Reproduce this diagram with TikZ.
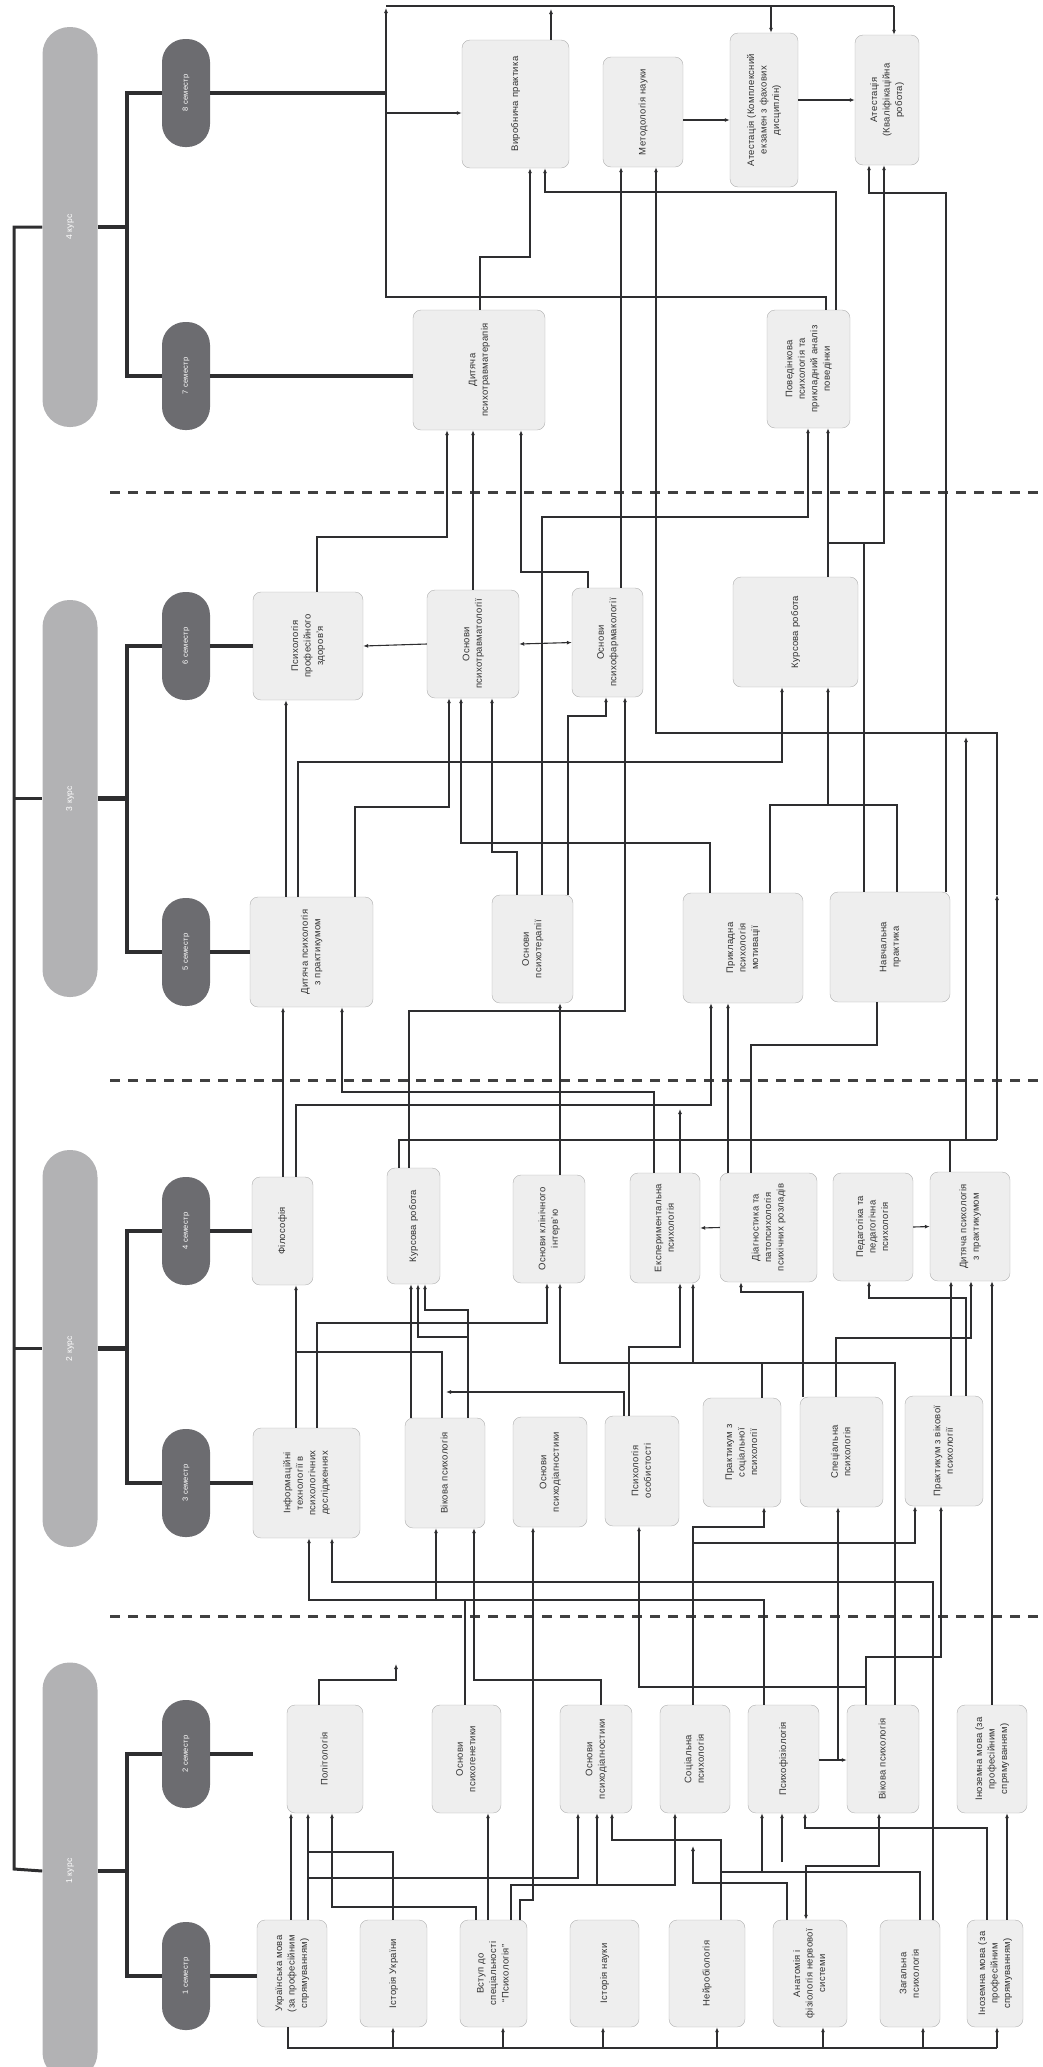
\documentclass[tikz,border=0pt]{standalone}
\usepackage{fontspec}
\setmainfont{Liberation Sans}[LetterSpace=3]
\usetikzlibrary{arrows.meta, calc, backgrounds}
\definecolor{coursegray}{HTML}{B2B2B4}
\definecolor{semgray}{HTML}{6C6C70}
\definecolor{boxfill}{HTML}{EEEEEE}
\definecolor{boxline}{HTML}{AEAEAE}
\definecolor{linkgray}{HTML}{2E2E30}
\newcommand{\vtxt}[1]{\rotatebox{90}{\begin{tabular}{@{}c@{}}#1\end{tabular}}}
\tikzset{
  subj/.style={draw=boxline, fill=boxfill, rounded corners=8pt, inner sep=0pt,
    text=black!80, font=\fontsize{9.5}{12.5}\selectfont},
  semnode/.style={fill=semgray, rounded corners=23pt, minimum width=48, minimum height=108,
    inner sep=0pt, text=white, font=\fontsize{7.5}{8}\selectfont},
  coursenode/.style={fill=coursegray, rounded corners=27pt, minimum width=55, inner sep=0pt,
    text=white, font=\fontsize{8.5}{9}\selectfont},
  link/.style={draw=linkgray, line width=1.1pt},
  arr/.style={link, -{Latex[length=5pt,width=4pt]}},
  arrboth/.style={link, {Latex[length=5pt,width=4pt]}-{Latex[length=5pt,width=4pt]}},
  spine/.style={draw=linkgray, line width=3pt},
  semlink/.style={draw=linkgray, line width=4.5pt},
  divider/.style={draw=black!75, line width=3pt, dash pattern=on 10pt off 8pt},
}

\begin{document}
\begin{tikzpicture}[x=1pt, y=-1pt]
\useasboundingbox (0,0) rectangle (1042,2067);

% courses and semesters
\node[coursenode, minimum height=400] (k4) at (70,227) {\rotatebox{90}{4 курс}};
\node[coursenode, minimum height=397] (k3) at (70,798.5) {\rotatebox{90}{3 курс}};
\node[coursenode, minimum height=397] (k2) at (70,1348.5) {\rotatebox{90}{2 курс}};
\node[coursenode, minimum height=417] (k1) at (70,1871) {\rotatebox{90}{1 курс}};
\node[semnode] (s8) at (186,93) {\rotatebox{90}{8 семестр}};
\node[semnode] (s7) at (186,376) {\rotatebox{90}{7 семестр}};
\node[semnode] (s6) at (186,646) {\rotatebox{90}{6 семестр}};
\node[semnode] (s5) at (186,952) {\rotatebox{90}{5 семестр}};
\node[semnode] (s4) at (186,1231) {\rotatebox{90}{4 семестр}};
\node[semnode] (s3) at (186,1483) {\rotatebox{90}{3 семестр}};
\node[semnode] (s2) at (186,1754) {\rotatebox{90}{2 семестр}};
\node[semnode] (s1) at (186,1976) {\rotatebox{90}{1 семестр}};

% 1 семестр
\node[subj, minimum width=70, minimum height=107] (ukr) at (292,1973.5) {\vtxt{Українська мова\\(за професійним\\спрямуванням)}};
\node[subj, minimum width=67, minimum height=107] (istu) at (393.5,1973.5) {\vtxt{Історія України}};
\node[subj, minimum width=67, minimum height=107] (vstup) at (493.5,1973.5) {\vtxt{Вступ до\\спеціальності\\“Психологія”}};
\node[subj, minimum width=69, minimum height=107] (istn) at (604.5,1973.5) {\vtxt{Історія науки}};
\node[subj, minimum width=76, minimum height=107] (neuro) at (707,1973.5) {\vtxt{Нейробіологія}};
\node[subj, minimum width=74, minimum height=107] (anat) at (810,1973.5) {\vtxt{Анатомія і\\фізіологія нервової\\системи}};
\node[subj, minimum width=60, minimum height=107] (zah) at (910,1973.5) {\vtxt{Загальна\\психологія}};
\node[subj, minimum width=56, minimum height=107] (inoz1) at (995,1973.5) {\vtxt{Іноземна мова (за\\професійним\\спрямуванням)}};

% 2 семестр
\node[subj, minimum width=76, minimum height=108] (polit) at (325,1759) {\vtxt{Політологія}};
\node[subj, minimum width=69, minimum height=108] (genet) at (466.5,1759) {\vtxt{Основи\\психогенетики}};
\node[subj, minimum width=72, minimum height=108] (diag2) at (596,1759) {\vtxt{Основи\\психодіагностики}};
\node[subj, minimum width=70, minimum height=108] (soc) at (695,1759) {\vtxt{Соціальна\\психологія}};
\node[subj, minimum width=71, minimum height=108] (fiz) at (783.5,1759) {\vtxt{Психофізіологія}};
\node[subj, minimum width=72, minimum height=108] (vik2) at (883,1759) {\vtxt{Вікова психологія}};
\node[subj, minimum width=70, minimum height=108] (inoz2) at (992,1759) {\vtxt{Іноземна мова (за\\професійним\\спрямуванням)}};

% 3 семестр
\node[subj, minimum width=107, minimum height=110] (inf) at (306.5,1483) {\vtxt{Інформаційні\\технології в\\психологічних\\дослідженнях}};
\node[subj, minimum width=80, minimum height=110] (vik3) at (445,1473) {\vtxt{Вікова психологія}};
\node[subj, minimum width=74, minimum height=110] (diag3) at (550,1472) {\vtxt{Основи\\психодіагностики}};
\node[subj, minimum width=74, minimum height=110] (osob) at (642,1471) {\vtxt{Психологія\\особистості}};
\node[subj, minimum width=78, minimum height=109] (prsoc) at (742,1452.5) {\vtxt{Практикум з\\соціальної\\психології}};
\node[subj, minimum width=83, minimum height=110] (spec) at (841.5,1452) {\vtxt{Спеціальна\\психологія}};
\node[subj, minimum width=78, minimum height=110] (prvik) at (944,1451) {\vtxt{Практикум з вікової\\психології}};

% 4 семестр
\node[subj, minimum width=61, minimum height=108] (filos) at (282.5,1231) {\vtxt{Філософія}};
\node[subj, minimum width=53, minimum height=116] (kurs4) at (413.5,1226) {\vtxt{Курсова робота}};
\node[subj, minimum width=72, minimum height=108] (interv) at (549,1229) {\vtxt{Основи клінічного\\інтерв'ю}};
\node[subj, minimum width=70, minimum height=110] (exp) at (665,1228) {\vtxt{Експериментальна\\психологія}};
\node[subj, minimum width=97, minimum height=109] (patop) at (768.5,1227.5) {\vtxt{Діагностика та\\патопсихологія\\психічних розладів}};
\node[subj, minimum width=80, minimum height=108] (ped) at (873,1227) {\vtxt{Педагогіка та\\педагогічна\\психологія}};
\node[subj, minimum width=80, minimum height=109] (dyt4) at (970,1226.5) {\vtxt{Дитяча психологія\\з практикумом}};

% 5 семестр
\node[subj, minimum width=123, minimum height=110] (dyt5) at (311.5,952) {\vtxt{Дитяча психологія\\з практикумом}};
\node[subj, minimum width=81, minimum height=108] (terap) at (532.5,949) {\vtxt{Основи\\психотерапії}};
\node[subj, minimum width=120, minimum height=110] (motiv) at (743,948) {\vtxt{Прикладна\\психологія\\мотивації}};
\node[subj, minimum width=120, minimum height=110] (navch) at (890,947) {\vtxt{Навчальна\\практика}};

% 6 семестр
\node[subj, minimum width=110, minimum height=108] (zdor) at (308,646) {\vtxt{Психологія\\професійного\\здоров'я}};
\node[subj, minimum width=92, minimum height=108] (travm) at (473,644) {\vtxt{Основи\\психотравматології}};
\node[subj, minimum width=71, minimum height=109] (farm) at (607.5,642.5) {\vtxt{Основи\\психофармакології}};
\node[subj, minimum width=125, minimum height=110] (kurs6) at (795.5,632) {\vtxt{Курсова робота}};

% 7 семестр
\node[subj, minimum width=132, minimum height=120] (dtrav) at (479,370) {\vtxt{Дитяча\\психотравматерапія}};
\node[subj, minimum width=83, minimum height=118] (povid) at (808.5,369) {\vtxt{Поведінкова\\психологія та\\прикладний аналіз\\поведінки}};

% 8 семестр
\node[subj, minimum width=107, minimum height=128] (vyrob) at (515.5,104) {\vtxt{Виробнича практика}};
\node[subj, minimum width=80, minimum height=110] (metod) at (643,112) {\vtxt{Методологія науки}};
\node[subj, minimum width=68, minimum height=154] (atkomp) at (764,110) {\vtxt{Атестація (Комплексний\\екзамен з фахових\\дисциплін)}};
\node[subj, minimum width=64, minimum height=130] (atkval) at (887,100) {\vtxt{Атестація\\(Кваліфікаційна\\робота)}};

\begin{scope}[on background layer]
  \draw[spine] (k4.west) -- (14,227) -- (14,1869) -- (k1.west);
  \draw[spine] (14,798.5) -- (k3.west);
  \draw[spine] (14,1348.5) -- (k2.west);
  \draw[semlink] (k4.east) -- (127,227);
  \draw[semlink] (k3.east) -- (127,798.5);
  \draw[semlink] (k2.east) -- (127,1348.5);
  \draw[semlink] (k1.east) -- (127,1871);
  \draw[semlink] (s8.west) -| (127,227) |- (s7.west);
  \draw[semlink] (s6.west) -| (127,798.5) |- (s5.west);
  \draw[semlink] (s4.west) -| (127,1348.5) |- (s3.west);
  \draw[semlink] (s2.west) -| (127,1871) |- (s1.west);
\end{scope}
\draw[semlink] (s8.east) -- (386,93);
\draw[semlink] (s7.east) -- (dtrav.west |- s7.east);
\draw[semlink] (s6.east) -- (zdor.west);
\draw[semlink] (s5.east) -- (dyt5.west);
\draw[semlink] (s4.east) -- (filos.west);
\draw[semlink] (s3.east) -- (inf.west);
\draw[semlink] (s2.east) -- (253,1754);
\draw[semlink] (s1.east) -- (ukr.west |- s1.east);

% semester dividers
\draw[divider] (110,492) -- (1042,492);
\draw[divider] (110,1080) -- (1042,1080);
\draw[divider] (110,1616) -- (1042,1616);

% 1 -> 2 семестр
\draw[link] (ukr.south -| 288,0) |- (997,2048);
\draw[arr] (393,2048) -- (istu.south -| 393,0);
\draw[arr] (503,2048) -- (vstup.south -| 503,0);
\draw[arr] (603,2048) -- (istn.south -| 603,0);
\draw[arr] (717,2048) -- (neuro.south -| 717,0);
\draw[arr] (823,2048) -- (anat.south -| 823,0);
\draw[arr] (923,2048) -- (zah.south -| 923,0);
\draw[arr] (997,2048) -- (inoz1.south -| 997,0);
\draw[arr] (ukr.north -| 291,0) -- (polit.south -| 291,0);
\draw[arr] (ukr.north -| 308,0) -- (polit.south -| 308,0);
\coordinate (jIst) at (308,1852);
\draw[link] (istu.north -| 393,0) |- (jIst);
\draw[arr] (308,1878) -| (diag2.south -| 578,0);
\draw[arr] (vstup.north -| 476,0) |- (332,1907) -- (polit.south -| 332,0);
\draw[arr] (vstup.north -| 488,0) -- (genet.south -| 488,0);
\draw[arr] (vstup.north -| 511,0) |- (675,1885) -- (soc.south -| 675,0);
\draw[arr] (597,1885) -- (diag2.south -| 597,0);
\draw[arr] (vstup.north -| 520,0) |- (533,1900) -- (diag3.south -| 533,0);
\draw[arr] (neuro.north -| 721,0) |- (612,1840) -- (diag2.south -| 612,0);
\coordinate (jAnat) at (693,1846);
\draw[arr] (anat.north -| 787,0) |- (693,1883) -- (jAnat);
\draw[link] (zah.north -| 920,0) |- (721,1872);
\draw[arr] (762,1872) -- (fiz.south -| 762,0);
\coordinate (jFiz) at (782,1862);
\draw[arr] (jFiz) -- (fiz.south -| 782,0);
\draw[arr] (inoz1.north -| 987,0) |- (805,1828) -- (fiz.south -| 805,0);
\draw[arrboth] (vik2.south -| 879,0) |- (806,1866) -- (anat.north -| 806,0);
\draw[arr] (inoz1.north -| 1007,0) -- (inoz2.south -| 1007,0);
\draw[arr] (zah.north -| 933,0) |- (332,1582) -- (inf.south -| 332,0);
\draw[arr] (fiz.east |- 0,1760) -- (vik2.west |- 0,1760);
\draw[arr] (838,1760) -- (spec.south -| 838,0);

% 2 -> 3 семестр
\draw[arr] (fiz.north -| 764,0) |- (309,1600) -- (inf.south -| 309,0);
\draw[arr] (436,1600) -- (vik3.south -| 436,0);
\draw[link] (genet.north -| 465,0) -- (465,1600);
\coordinate (jPol) at (396,1664);
\draw[arr] (polit.north -| 319,0) |- (396,1680) -- (jPol);
\draw[arr] (diag2.north -| 601,0) |- (474,1680) -- (vik3.south -| 474,0);
\draw[arr] (soc.north -| 693,0) |- (764,1527) -- (prsoc.south -| 764,0);
\draw[arr] (693,1543) -| (prvik.south -| 915,0);
\draw[arr] (vik2.north -| 866,0) |- (639,1687) -- (osob.south -| 639,0);
\draw[arr] (vik2.north -| 866,0) |- (941,1657) -- (prvik.south -| 941,0);
\draw[arr] (vik2.north -| 895,0) |- (560,1363) -- (interv.south -| 560,0);
\draw[arr] (693,1363) -- (exp.south -| 693,0);
\draw[link] (prsoc.north -| 762,0) -- (762,1363);
\draw[arr] (inoz2.north -| 992,0) -- (dyt4.south -| 992,0);

% 3 -> 4 семестр
\draw[arr] (inf.north -| 296,0) -- (filos.south -| 296,0);
\draw[arr] (inf.north -| 317,0) |- (547,1323) -- (interv.south -| 547,0);
\draw[link] (vik3.north -| 442,0) |- (296,1352);
\draw[arr] (vik3.north -| 411,0) -- (kurs4.south -| 411,0);
\draw[arr] (vik3.north -| 468,0) |- (425,1310) -- (kurs4.south -| 425,0);
\draw[arr] (468,1337) -| (kurs4.south -| 418,0);
\coordinate (jOsob) at (446,1392);
\draw[arr] (osob.north -| 624,0) |- (jOsob);
\draw[arr] (osob.north -| 629,0) |- (680,1347) -- (exp.south -| 680,0);
\draw[arr] (spec.north -| 803,0) |- (741,1292) -- (patop.south -| 741,0);
\draw[arr] (spec.north -| 836,0) |- (971,1338) -- (dyt4.south -| 971,0);
\draw[arr] (prvik.north -| 951,0) -- (dyt4.south -| 951,0);
\draw[arr] (prvik.north -| 966,0) |- (869,1298) -- (ped.south -| 869,0);
\draw[arr] (patop.west) -- (exp.east);
\draw[arr] (ped.east) -- (dyt4.west);

% 4 -> 5 семестр
\draw[arr] (filos.north -| 283,0) -- (dyt5.south -| 283,0);
\draw[arr] (filos.north -| 296,0) |- (711,1105) -- (motiv.south -| 711,0);
\draw[arr] (exp.north -| 654,0) |- (342,1092) -- (dyt5.south -| 342,0);
\coordinate (jExp) at (680,1109);
\draw[arr] (exp.north -| 680,0) -- (jExp);
\draw[arr] (kurs4.north -| 409,0) |- (625,1011) -- (farm.south -| 625,0);
\draw[arr] (interv.north -| 560,0) -- (terap.south -| 560,0);
\draw[arr] (patop.north -| 728,0) -- (motiv.south -| 728,0);
\draw[link] (patop.north -| 751,0) |- (877,1045) -- (navch.south -| 877,0);
\draw[link] (kurs4.north -| 399,0) |- (997,1140);
\draw[link] (dyt4.north -| 950,0) -- (950,1140);
\draw[arr] (966,1140) -- (966,737);
\draw[arr] (997,1140) -- (997,895);
\draw[arr] (997,895) |- (656,733) -- (metod.south -| 656,0);

% 5 -> 6 семестр
\draw[arr] (dyt5.north -| 286,0) -- (zdor.south -| 286,0);
\draw[arr] (dyt5.north -| 298,0) |- (782,762) -- (kurs6.south -| 782,0);
\draw[arr] (dyt5.north -| 355,0) |- (449,807) -- (travm.south -| 449,0);
\draw[arr] (motiv.north -| 710,0) |- (461,843) -- (travm.south -| 461,0);
\draw[arr] (terap.north -| 517,0) |- (492,852) -- (travm.south -| 492,0);
\draw[arr] (terap.north -| 568,0) |- (606,716) -- (farm.south -| 606,0);
\draw[arr] (terap.north -| 542,0) |- (808,517) -- (povid.south -| 808,0);
\draw[link] (motiv.north -| 770,0) |- (897,805) -- (navch.north -| 897,0);
\draw[arr] (828,805) -- (kurs6.south -| 828,0);
\draw[arr] (travm.west) -- (zdor.east);
\draw[arrboth] (travm.east) -- (farm.west);

% 6 -> 7 -> 8 семестр
\draw[arr] (kurs6.north -| 828,0) -- (povid.south -| 828,0);
\draw[arr] (navch.north -| 864,0) |- (884,543) -- (atkval.south -| 884,0);
\draw[link] (828,543) -- (864,543);
\draw[arr] (navch.north -| 946,0) |- (869,193) -- (atkval.south -| 869,0);
\draw[arr] (farm.north -| 621,0) -- (metod.south -| 621,0);
\draw[arr] (zdor.north -| 317,0) |- (447,537) -- (dtrav.south -| 447,0);
\draw[arr] (travm.north -| 473,0) -- (dtrav.south -| 473,0);
\draw[arr] (farm.north -| 588,0) |- (521,572) -- (dtrav.south -| 521,0);
\draw[arr] (dtrav.north -| 480,0) |- (530,257) -- (vyrob.south -| 530,0);
\draw[arr] (povid.north -| 836,0) |- (545,192) -- (vyrob.south -| 545,0);
\draw[arr] (povid.north -| 826,0) |- (386,297) -- (386,8);
\draw[link] (386,6) -- (894,6);
\draw[arr] (771,6) -- (atkomp.north -| 771,0);
\draw[arr] (894,6) -- (atkval.north -| 894,0);
\draw[arr] (vyrob.north -| 551,0) -- (551,9);
\draw[arr] (386,113) -- (vyrob.west |- 0,113);
\draw[arr] (metod.east |- 0,120) -- (atkomp.west |- 0,120);
\draw[arr] (atkomp.east |- 0,100) -- (atkval.west |- 0,100);
\end{tikzpicture}
\end{document}
